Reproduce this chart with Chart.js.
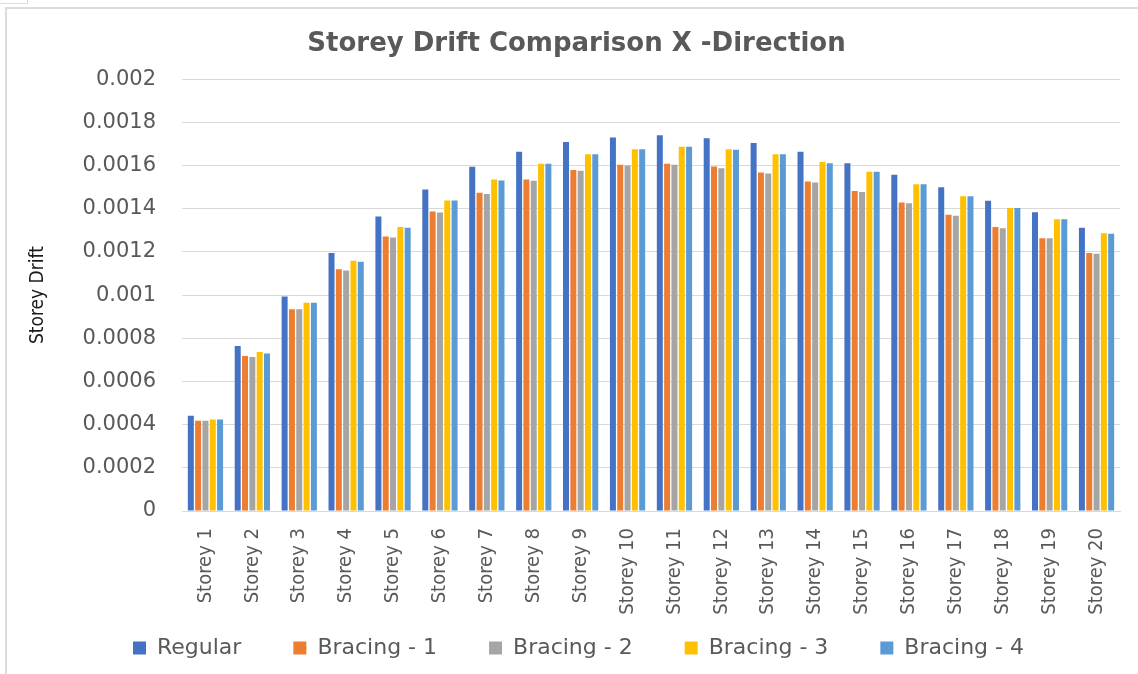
<!DOCTYPE html>
<html>
<head>
<meta charset="utf-8">
<script src="https://cdn.jsdelivr.net/npm/chart.js@4"></script>
<style>
  html, body { margin: 0; padding: 0; background: #fff; overflow: hidden; }
  .wrap { position: relative; width: 1138px; height: 674px; overflow: hidden; }
  .frame { position: absolute; left: 5px; top: 7px; width: 1140px; height: 680px; border-left: 2px solid #dcdcdc; border-top: 2px solid #dcdcdc; }
  .tab { position: absolute; left: -1px; top: -1px; width: 27px; height: 3px; border: 1px solid #dcdcdc; }
  canvas { position: absolute; left: 0; top: 0; }
</style>
</head>
<body>
<div class="wrap">
  <div class="frame"></div>
  <div class="tab"></div>
  <canvas id="chart" width="1138" height="674"></canvas>
</div>
<script>
const storeys = ['Storey 1', 'Storey 2', 'Storey 3', 'Storey 4', 'Storey 5', 'Storey 6', 'Storey 7',
  'Storey 8', 'Storey 9', 'Storey 10', 'Storey 11', 'Storey 12', 'Storey 13', 'Storey 14',
  'Storey 15', 'Storey 16', 'Storey 17', 'Storey 18', 'Storey 19', 'Storey 20'];

const regular = [0.000441, 0.000764, 0.000994, 0.001195, 0.001364, 0.001489, 0.001594, 0.001664,
  0.001709, 0.00173, 0.00174, 0.001726, 0.001704, 0.001664, 0.001611, 0.001557, 0.001499,
  0.001437, 0.001384, 0.001312];
const bracing1 = [0.000418, 0.000718, 0.000934, 0.00112, 0.001272, 0.001387, 0.001474, 0.001536,
  0.00158, 0.001604, 0.001608, 0.001596, 0.001568, 0.001526, 0.001482, 0.001429, 0.001372,
  0.001315, 0.001263, 0.001195];
const bracing2 = [0.000418, 0.000713, 0.000934, 0.001114, 0.001267, 0.001383, 0.001468, 0.00153,
  0.001576, 0.0016, 0.001604, 0.001588, 0.001563, 0.001522, 0.001477, 0.001425, 0.001367,
  0.00131, 0.001263, 0.001191];
const bracing3 = [0.000424, 0.000736, 0.000965, 0.001159, 0.001316, 0.001438, 0.001536, 0.001608,
  0.001652, 0.001676, 0.001687, 0.001676, 0.001652, 0.001616, 0.001571, 0.001513, 0.001458,
  0.001403, 0.001351, 0.001287];
const bracing4 = [0.000424, 0.00073, 0.000965, 0.001154, 0.001312, 0.001438, 0.001531, 0.001608,
  0.001652, 0.001676, 0.001687, 0.001673, 0.001652, 0.001611, 0.001571, 0.001513, 0.001458,
  0.001403, 0.001351, 0.001284];

const seriesNames = ['Regular', 'Bracing - 1', 'Bracing - 2', 'Bracing - 3', 'Bracing - 4'];
const seriesColors = ['#4472c4', '#ed7d31', '#a5a5a5', '#ffc000', '#5b9bd5'];
const yTicks = [0, 0.0002, 0.0004, 0.0006, 0.0008, 0.001, 0.0012, 0.0014, 0.0016, 0.0018, 0.002];

const textColor = '#595959';
const gridColor = '#d9d9d9';
const narrowFont = "'DejaVu Sans Condensed', 'DejaVu Sans', sans-serif";

// title and legend sit a little right of the canvas centre in the original
const boxShift = {
  id: 'boxShift',
  afterLayout(chart) {
    if (chart.legend) {
      chart.legend.left += 16;
      chart.legend.right += 16;
    }
    if (chart.titleBlock) {
      chart.titleBlock.left += 14;
      chart.titleBlock.right += 14;
    }
  }
};

new Chart(document.getElementById('chart'), {
  type: 'bar',
  data: {
    labels: storeys,
    datasets: [regular, bracing1, bracing2, bracing3, bracing4].map((values, i) => ({
      label: seriesNames[i],
      data: values,
      backgroundColor: seriesColors[i],
      borderWidth: 0,
      categoryPercentage: 0.78,
      barPercentage: 0.82
    }))
  },
  options: {
    responsive: false,
    animation: false,
    layout: { padding: { left: 5, right: 18, top: 8, bottom: 5 } },
    plugins: {
      title: {
        display: true,
        text: 'Storey Drift Comparison X -Direction',
        color: textColor,
        font: { family: 'DejaVu Sans', size: 26, weight: 'bold' },
        padding: { top: 21, bottom: 19 }
      },
      legend: {
        position: 'bottom',
        labels: {
          color: textColor,
          font: { family: 'DejaVu Sans', size: 22 },
          boxWidth: 13,
          boxHeight: 13,
          padding: 52
        }
      },
      tooltip: { enabled: false }
    },
    scales: {
      x: {
        grid: { display: false },
        border: { display: true, color: gridColor },
        ticks: {
          color: textColor,
          font: { family: narrowFont, size: 20 },
          minRotation: 90,
          maxRotation: 90,
          padding: 9
        },
        afterFit(scale) {
          scale.height = 74;
          // labels run past the short axis box, so do not clip them to it
          scale._computeLabelArea = () => null;
        }
      },
      y: {
        min: 0,
        max: 0.002,
        afterBuildTicks(scale) { scale.ticks = yTicks.map(v => ({ value: v })); },
        grid: { color: gridColor, drawTicks: false },
        border: { display: false },
        ticks: {
          color: textColor,
          font: { family: 'DejaVu Sans', size: 21 },
          padding: 26,
          callback: v => String(+v.toFixed(4))
        },
        title: {
          display: true,
          text: 'Storey Drift',
          color: '#1a1a1a',
          font: { family: narrowFont, size: 19 },
          padding: { top: 22 }
        },
        afterFit(scale) { scale.width = 177; }
      }
    }
  },
  plugins: [boxShift]
});
</script>
</body>
</html>
